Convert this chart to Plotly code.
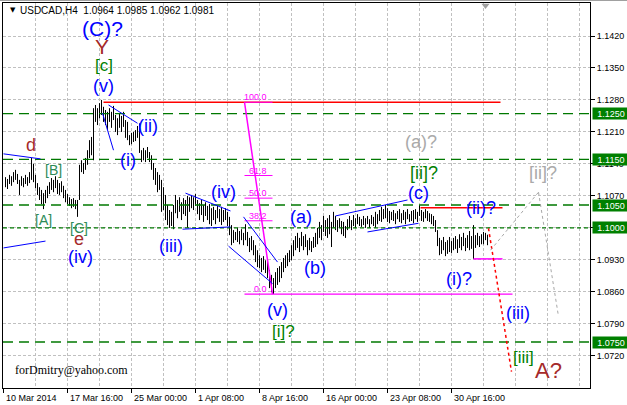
import plotly.graph_objects as go

# ---------------- data ----------------
symbol_title = "USDCAD,H4"
last_ohlc = [1.0964, 1.0985, 1.0962, 1.0981]

FIRST_BAR = 1
bar_high_pips = [
    11111, 11107, 11116, 11113, 11122, 11127, 11118, 11105, 11113, 11109,
    11116, 11111, 11122, 11153, 11140, 11116, 11098, 11089, 11083, 11076,
    11083, 11092, 11100, 11109, 11105, 11113, 11105, 11098, 11102, 11092,
    11083, 11074, 11067, 11063, 11065, 11061, 11061, 11138, 11148, 11142,
    11153, 11170, 11192, 11199, 11262, 11269, 11262, 11273, 11280, 11265,
    11258, 11254, 11262, 11254, 11267, 11247, 11240, 11251, 11245, 11254,
    11236, 11232, 11203, 11208, 11210, 11214, 11223, 11229, 11170, 11175,
    11170, 11177, 11166, 11159, 11142, 11131, 11122, 11116, 11105, 11089,
    11072, 11050, 11039, 11035, 11050, 11072, 11061, 11067, 11056, 11065,
    11061, 11070, 11067, 11072, 11067, 11074, 11061, 11054, 11061, 11050,
    11056, 11048, 11052, 11043, 11046, 11039, 11048, 11041, 11046, 11039,
    11043, 11035, 11024, 11006, 10995, 10991, 11000, 10993, 10997, 10989,
    11008, 10991, 10978, 10982, 10973, 10962, 10951, 10940, 10934, 10938,
    10929, 10925, 10908, 10897, 10890, 10903, 10912, 10916, 10925, 10934,
    10940, 10945, 10951, 10962, 10973, 10982, 10989, 10978, 10991, 10982,
    10986, 10973, 10978, 10971, 10980, 10989, 11000, 11013, 11006, 11026,
    11017, 11021, 11028, 11013, 11035, 11026, 11017, 11021, 11015, 11013,
    11004, 11019, 11026, 11017, 11028, 11021, 11030, 11024, 11019, 11026,
    11021, 11026, 11019, 11028, 11024, 11035, 11030, 11039, 11046, 11041,
    11050, 11043, 11037, 11035, 11039, 11032, 11037, 11041, 11032, 11039,
    11035, 11041, 11030, 11037, 11039, 11041, 11035, 11050, 11039, 11035,
    11041, 11037, 11032, 11030, 11026, 11017, 10995, 10978, 10973, 10980,
    10969, 10973, 10980, 10971, 10978, 10982, 10975, 10986, 10980, 10989,
    10978, 10984, 10993, 10982, 11006, 10984, 10989, 10982, 10986, 10991,
    10989, 10985,
]
bar_low_pips = [
    11089, 11085, 11096, 11092, 11100, 11105, 11096, 11072, 11092, 11089,
    11096, 11092, 11098, 11105, 11100, 11087, 11072, 11061, 11052, 11041,
    11054, 11065, 11074, 11083, 11078, 11087, 11074, 11072, 11078, 11065,
    11056, 11052, 11048, 11043, 11046, 11041, 11024, 11061, 11122, 11118,
    11127, 11138, 11153, 11159, 11148, 11232, 11225, 11240, 11247, 11232,
    11225, 11214, 11232, 11219, 11236, 11210, 11203, 11219, 11210, 11221,
    11197, 11192, 11181, 11183, 11188, 11190, 11197, 11164, 11144, 11148,
    11144, 11153, 11144, 11127, 11105, 11094, 11078, 11083, 11035, 11039,
    11017, 11006, 11000, 11004, 10997, 11032, 11021, 11035, 11017, 11030,
    11026, 11000, 11035, 11043, 11039, 11048, 11030, 11017, 11028, 11013,
    11026, 11017, 11008, 11004, 11017, 11008, 11021, 11013, 11006, 11013,
    11017, 11004, 10984, 10962, 10967, 10973, 10969, 10964, 10973, 10962,
    10973, 10960, 10947, 10951, 10940, 10925, 10914, 10912, 10903, 10908,
    10901, 10890, 10868, 10859, 10855, 10868, 10875, 10881, 10890, 10903,
    10912, 10916, 10925, 10929, 10938, 10951, 10956, 10947, 10960, 10951,
    10958, 10940, 10951, 10947, 10956, 10958, 10964, 10978, 10973, 10991,
    10982, 10978, 10986, 10958, 11000, 10995, 10991, 11000, 10986, 10982,
    10978, 10995, 11000, 10995, 11004, 11000, 11008, 11004, 11002, 11006,
    11000, 11008, 11000, 11008, 11004, 11000, 11008, 11015, 11013, 11019,
    11021, 11013, 11010, 11017, 11015, 11008, 11019, 11013, 11010, 11017,
    11008, 11019, 11013, 11015, 11010, 11019, 11013, 11026, 11015, 11013,
    11021, 11015, 11013, 11008, 11004, 10991, 10960, 10940, 10943, 10951,
    10938, 10943, 10947, 10945, 10951, 10954, 10945, 10956, 10951, 10960,
    10949, 10956, 10951, 10954, 10932, 10956, 10962, 10958, 10964, 10964,
    10973, 10962,
]

time_labels = ["10 Mar 2014", "17 Mar 16:00", "25 Mar 00:00", "1 Apr 08:00",
               "8 Apr 16:00", "16 Apr 00:00", "23 Apr 08:00", "30 Apr 16:00"]
time_label_bars = [0, 32, 64, 96, 128, 160, 192, 224]
grid_bars = list(range(0, 289, 16))

price_ticks = [1.1420, 1.1350, 1.1280, 1.1210, 1.1140, 1.1070, 1.1000,
               1.0930, 1.0860, 1.0790, 1.0720]
level_dashed = [1.1250, 1.1150, 1.1050, 1.0750]
level_dotted = 1.1000
level_boxes = [1.1250, 1.1150, 1.1050, 1.1000, 1.0750]

fib_start_bar, fib_end_bar = 120.5, 134.5
fib_high, fib_low = 1.1275, 1.0855
fib_levels = [100.0, 61.8, 50.0, 38.2]
fib_zero_end_bar = 254.5

# analyst drawings: ((bar, price), (bar, price))
blue_lines = [
    ((0, 1.1162), (18.5, 1.1151)),
    ((0, 1.0956), (21, 1.0971)),
    ((52.5, 1.1269), (67, 1.1229)),
    ((49.5, 1.1251), (55, 1.1170)),
    ((91, 1.1076), (113.5, 1.1037)),
    ((89.5, 1.0997), (113.5, 1.1002)),
    ((120, 1.1024), (137, 1.0925)),
    ((112.5, 1.0960), (134.5, 1.0878)),
    ((166, 1.1026), (202, 1.1061)),
    ((182, 1.0991), (207.5, 1.1010)),
]
red_lines = [((50, 1.1275), (248.5, 1.1275)), ((208.5, 1.1044), (249.5, 1.1044))]
magenta_short = ((235, 1.0932), (249.5, 1.0932))
red_dotted = [(242.5, 1.0999), (254, 1.0685)]
gray_dotted = [(243.5, 1.0951), (267.5, 1.1078), (277.5, 1.0806)]

BLUE, BROWN, GREEN, SEA, GRAY = "#0000ff", "#a52a2a", "#008000", "#2e8b57", "#aaaaaa"
wave_labels = [
    ("(C)?", 49.5, 1.1437, BLUE, 21),
    ("Y", 49, 1.1396, BROWN, 21),
    ("[c]", 50, 1.1356, GREEN, 17),
    ("(v)", 50, 1.1310, BLUE, 18),
    ("(ii)", 72, 1.1223, BLUE, 18),
    ("(i)", 62, 1.1148, BLUE, 18),
    ("d", 13.5, 1.1181, BROWN, 18),
    ("[B]", 25, 1.1127, SEA, 14),
    ("[A]", 20, 1.1017, SEA, 14),
    ("[C]", 37.5, 1.1000, SEA, 14),
    ("e", 37.5, 1.0975, BROWN, 18),
    ("(iv)", 38.5, 1.0936, BLUE, 18),
    ("(iii)", 83.5, 1.0960, BLUE, 18),
    ("(iv)", 110, 1.1078, BLUE, 18),
    ("(a)", 148.5, 1.1024, BLUE, 18),
    ("(b)", 155.5, 1.0911, BLUE, 18),
    ("(v)", 137, 1.0820, BLUE, 18),
    ("[i]?", 140, 1.0773, GREEN, 17),
    ("(c)", 207.5, 1.1076, BLUE, 18),
    ("[ii]?", 210, 1.1119, GREEN, 18),
    ("(a)?", 208.5, 1.1187, GRAY, 18),
    ("(ii)?", 238.5, 1.1043, BLUE, 18),
    ("[ii]?", 269.5, 1.1119, GRAY, 18),
    ("(i)?", 227.5, 1.0889, BLUE, 18),
    ("(iii)", 257, 1.0813, BLUE, 18),
    ("[iii]", 260, 1.0717, GREEN, 17),
    ("A?", 272.5, 1.0688, BROWN, 22),
]
signature = ("forDmitry@yahoo.com", 4.5, 1.0688)
shift_marker_bar = 241

# ---------------- figure ----------------
Y_TOP, Y_BOT = 1.14923, 1.06493
X_MIN, X_MAX = -0.25, 293.25
PLOT_H = 385.0

high = [v / 10000 for v in bar_high_pips]
low = [v / 10000 for v in bar_low_pips]
xs, ys = [], []
for k, (h, l) in enumerate(zip(high, low)):
    i = FIRST_BAR + k
    xs += [i, i, None]
    ys += [l, h, None]

fig = go.Figure()
fig.add_trace(go.Scatter(x=xs, y=ys, mode="lines", line=dict(color="black", width=1),
                         hoverinfo="skip", showlegend=False))
fig.add_trace(go.Scatter(x=[shift_marker_bar], y=[Y_TOP - 0.00055], mode="markers",
                         marker=dict(symbol="triangle-down", size=7, color="#a0a0a0"),
                         cliponaxis=False, hoverinfo="skip", showlegend=False))

shapes = []
for p in level_dashed:
    shapes.append(dict(type="line", xref="paper", x0=0, x1=1, yref="y", y0=p, y1=p,
                       line=dict(color="#007800", width=1.4, dash="10px,6px")))
shapes.append(dict(type="line", xref="paper", x0=0, x1=1, yref="y", y0=level_dotted, y1=level_dotted,
                   line=dict(color="#007800", width=1.4, dash="4px,3px")))
for (a, b) in red_lines:
    shapes.append(dict(type="line", x0=a[0], y0=a[1], x1=b[0], y1=b[1],
                       line=dict(color="#ff0000", width=1.5)))
span = fib_high - fib_low
for lv in fib_levels:
    p = fib_low + span * lv / 100
    shapes.append(dict(type="line", x0=fib_start_bar, x1=fib_end_bar, y0=p, y1=p,
                       line=dict(color="#ff00ff", width=1)))
shapes.append(dict(type="line", x0=fib_start_bar, x1=fib_zero_end_bar, y0=fib_low, y1=fib_low,
                   line=dict(color="#ff00ff", width=1.3)))
shapes.append(dict(type="line", x0=fib_start_bar, y0=fib_high, x1=fib_end_bar, y1=fib_low,
                   line=dict(color="#ff00ff", width=1.5)))
shapes.append(dict(type="line", x0=magenta_short[0][0], y0=magenta_short[0][1],
                   x1=magenta_short[1][0], y1=magenta_short[1][1],
                   line=dict(color="#ff00ff", width=1.5)))
for (a, b) in blue_lines:
    shapes.append(dict(type="line", x0=a[0], y0=a[1], x1=b[0], y1=b[1],
                       line=dict(color="#0000ff", width=1)))
shapes.append(dict(type="line", x0=red_dotted[0][0], y0=red_dotted[0][1],
                   x1=red_dotted[1][0], y1=red_dotted[1][1],
                   line=dict(color="#ff0000", width=1.5, dash="3px,3px")))
for a, b in zip(gray_dotted[:-1], gray_dotted[1:]):
    shapes.append(dict(type="line", x0=a[0], y0=a[1], x1=b[0], y1=b[1],
                       line=dict(color="#a8a8a8", width=1, dash="3px,3px")))
for b in time_label_bars:
    shapes.append(dict(type="line", xref="x", yref="paper", x0=b, x1=b, y0=0, y1=-5 / PLOT_H,
                       line=dict(color="black", width=1)))
shapes.append(dict(type="line", xref="paper", yref="paper", x0=-3 / 587, x1=1 + 37 / 587,
                   y0=1 + 2.5 / PLOT_H, y1=1 + 2.5 / PLOT_H, line=dict(color="#a0a0a0", width=1)))

ann = []
for t, b, p, c, s in wave_labels:
    ann.append(dict(text=t, x=b, y=p, xref="x", yref="y", showarrow=False,
                    xanchor="center", yanchor="middle",
                    font=dict(family="Liberation Sans, Arial", size=s, color=c)))
for lv in fib_levels + [0.0]:
    p = fib_low + span * lv / 100
    ann.append(dict(text=f"{lv:.1f}", x=132.5, y=p, xref="x", yref="y", showarrow=False,
                    xanchor="right", yanchor="bottom", yshift=-2,
                    font=dict(family="Liberation Sans, Arial", size=9, color="#ff00ff")))
ann.append(dict(text=signature[0], x=signature[1], y=signature[2], xref="x", yref="y",
                showarrow=False, xanchor="left", yanchor="middle",
                font=dict(family="Liberation Serif, Times New Roman", size=12, color="black")))
for p in level_boxes:
    ann.append(dict(text=f"{p:.4f}", x=1, y=p, xref="paper", yref="y", showarrow=False,
                    xanchor="left", yanchor="middle", xshift=2, width=36, height=11,
                    bgcolor="#008000", borderpad=0, align="center",
                    font=dict(family="Liberation Sans, Arial", size=9, color="white")))
for lab, b in zip(time_labels, time_label_bars):
    ann.append(dict(text=lab, x=b, y=0, xref="x", yref="paper", showarrow=False,
                    xanchor="left", yanchor="top", xshift=0, yshift=-3,
                    font=dict(family="Liberation Sans, Arial", size=9, color="black")))
ann.append(dict(text="▼", x=0, y=1, xref="paper", yref="paper", showarrow=False,
                xanchor="left", yanchor="middle", xshift=5, yshift=-7,
                font=dict(family="DejaVu Sans", size=7, color="black")))
ann.append(dict(text=symbol_title + "  " + " ".join(f"{v:.4f}" for v in last_ohlc),
                x=0, y=1, xref="paper", yref="paper", showarrow=False,
                xanchor="left", yanchor="middle", xshift=15, yshift=-7,
                font=dict(family="Liberation Sans, Arial", size=10, color="black")))

fig.update_layout(width=627, height=405, margin=dict(l=3, r=37, t=3, b=17, autoexpand=False),
                  paper_bgcolor="white", plot_bgcolor="white", showlegend=False,
                  shapes=shapes, annotations=ann)
fig.update_xaxes(range=[X_MIN, X_MAX], tickvals=grid_bars, showticklabels=False, ticks="",
                 showgrid=True, gridcolor="#c0c0c0", griddash="3px,2px", gridwidth=1,
                 showline=True, linecolor="black", linewidth=1, mirror=True, zeroline=False,
                 automargin=False)
fig.update_yaxes(range=[Y_BOT, Y_TOP], side="right", tickvals=price_ticks,
                 ticktext=[f"{p:.4f}" for p in price_ticks], ticks="outside", ticklen=4,
                 tickcolor="black", tickfont=dict(family="Liberation Sans, Arial", size=9, color="black"),
                 showgrid=True, gridcolor="#c0c0c0", griddash="3px,2px", gridwidth=1,
                 showline=True, linecolor="black", linewidth=1, mirror=True, zeroline=False,
                 automargin=False)

fig.write_html("out.html", config={"displayModeBar": False},
               post_script="document.body.style.margin='0';document.body.style.padding='0';")
